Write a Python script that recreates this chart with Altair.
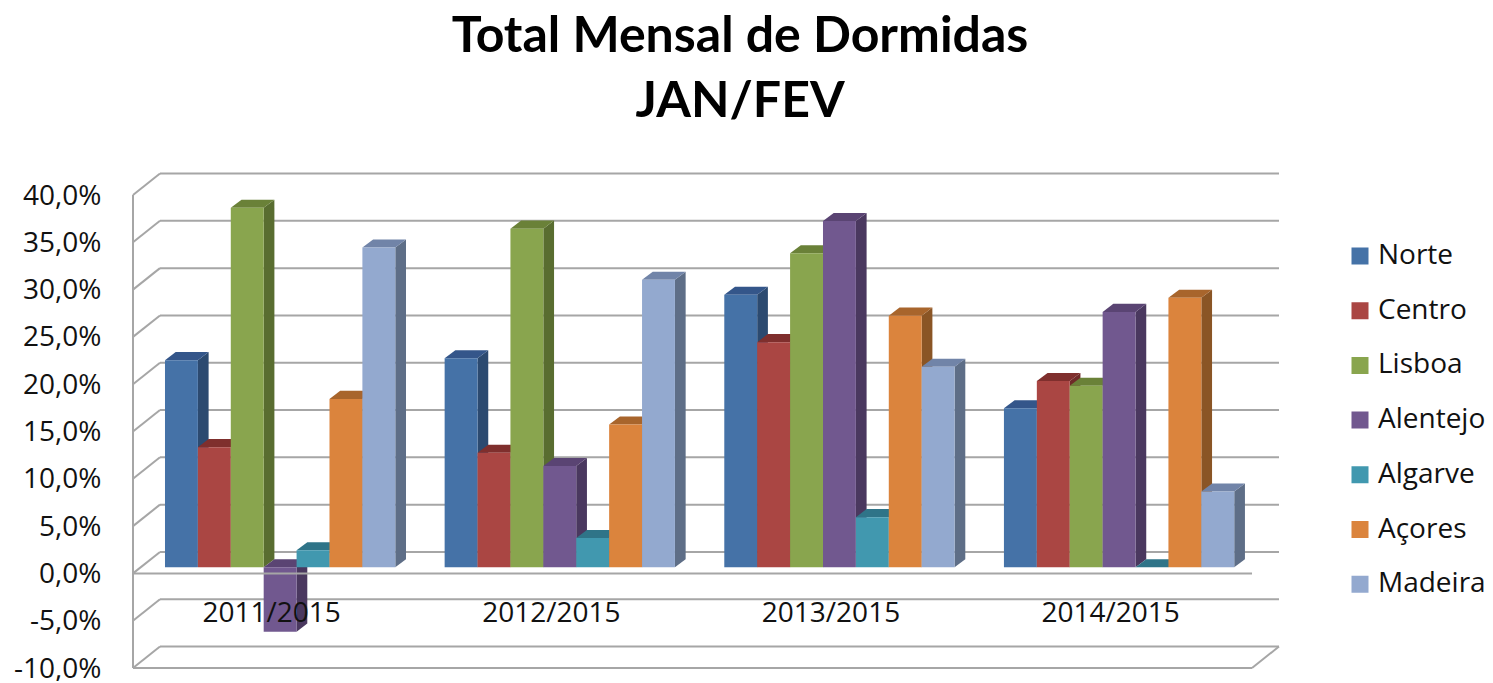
import altair as alt
import pandas as pd

# ---- data -----------------------------------------------------------------
periods = ["2011/2015", "2012/2015", "2013/2015", "2014/2015"]
regions = ["Norte", "Centro", "Lisboa", "Alentejo", "Algarve", "Açores", "Madeira"]
norte = [21.9, 22.1, 28.8, 16.8]
centro = [12.7, 12.1, 23.8, 19.7]
lisboa = [38.0, 35.8, 33.2, 19.2]
alentejo = [-6.8, 10.7, 36.6, 27.0]
algarve = [1.8, 3.1, 5.3, 0.0]
acores = [17.8, 15.1, 26.6, 28.5]
madeira = [33.8, 30.4, 21.2, 8.0]
series = [norte, centro, lisboa, alentejo, algarve, acores, madeira]
ticks = [-10, -5, 0, 5, 10, 15, 20, 25, 30, 35, 40]

front_colors = ["#4572A7", "#AA4643", "#89A54E", "#71588F", "#4198AF", "#DB843D", "#93A9CF"]
top_colors = ["#34568A", "#7F2F2D", "#6A8138", "#5A4473", "#2F7488", "#A8652C", "#7184A8"]
side_colors = ["#2C4A70", "#6F2A28", "#596D30", "#4A385F", "#27687A", "#8A5525", "#5E6E87"]

# ---- 3-D projection, in data units ----------------------------------------
X_MAX = 4.098        # width of plot in category steps
Y_MIN, Y_MAX = -10, 42.22
WALL_DX, WALL_DY = 0.0965, 2.27   # front plane -> back wall
BAR_X0 = 0.1144      # gap before first bar of a group
BAR_W = 1 / 8.5
BAR_DX, BAR_DY = 0.0383, 0.85     # depth of a bar
BASE_DY = 0.645      # bar plane sits above the front plane
FRONT_W = X_MAX - WALL_DX

fronts, sides, tops = [], [], []
for s, (name, vals) in enumerate(zip(regions, series)):
    for g, v in enumerate(vals):
        left = g + BAR_X0 + s * BAR_W
        right = left + BAR_W
        lo = BASE_DY
        hi = v + BASE_DY
        up = max(lo, hi)
        dn = min(lo, hi)
        key = f"{g}-{s}"
        fronts.append(dict(x=left, x2=right, y=dn, y2=up, region=name))
        for px, shift in ((right, 0), (right + BAR_DX, BAR_DY)):
            sides.append(dict(id=key, x=px, y=dn + shift, y2=up + shift, c=side_colors[s]))
        for py, shift in ((up, 0), (up + BAR_DY, BAR_DX)):
            tops.append(dict(id=key, y=py, x=left + shift, x2=right + shift, c=top_colors[s]))

back_lines = [dict(x=WALL_DX, x2=X_MAX, y=t + WALL_DY) for t in ticks]
slants = []
for t in ticks:
    slants.append(dict(id=f"l{t}", x=0, y=t))
    slants.append(dict(id=f"l{t}", x=WALL_DX, y=t + WALL_DY))
slants.append(dict(id="r", x=FRONT_W, y=-10))
slants.append(dict(id="r", x=X_MAX, y=-10 + WALL_DY))
front_lines = [dict(x=0, x2=FRONT_W, y=t) for t in (-10, 0)]
left_edge = [dict(x=0, y=-10, y2=40)]
labels = [dict(x=g + 0.4959, y=-4.3, t=p) for g, p in enumerate(periods)]

# ---- encodings ------------------------------------------------------------
LINE = "#A6A6A6"
xs = alt.Scale(domain=[0, X_MAX], nice=False, zero=False)
ys = alt.Scale(domain=[Y_MIN, Y_MAX], nice=False, zero=False)
y_axis = alt.Axis(
    values=ticks, domain=False, ticks=False, grid=False,
    labelExpr="(datum.value<0?'-':'')+replace(format(abs(datum.value),'.1f'),'.',',')+'%'",
    labelFont="Open Sans", labelFontSize=28, labelColor="#111111",
    labelPadding=32, labelOffset=1, labelFlush=False, labelOverlap=False,
)
X = alt.X("x:Q", scale=xs, axis=None)
Y = alt.Y("y:Q", scale=ys, title=None, axis=y_axis)


def src(rows):
    return alt.Chart(pd.DataFrame(rows))


grid_back = src(back_lines).mark_rule(color=LINE, strokeWidth=2).encode(x=X, x2="x2:Q", y=Y)
grid_slant = src(slants).mark_line(color=LINE, strokeWidth=2).encode(x=X, y=Y, detail="id:N", order="x:Q")
grid_left = src(left_edge).mark_rule(color=LINE, strokeWidth=2).encode(x=X, y=Y, y2="y2:Q")
grid_front = src(front_lines).mark_rule(color=LINE, strokeWidth=2).encode(x=X, x2="x2:Q", y=Y)

side_layer = src(sides).mark_area(orient="vertical").encode(
    x=X, y=Y, y2="y2:Q", detail="id:N",
    fill=alt.Fill("c:N", scale=None, legend=None))
top_layer = src(tops).mark_area(orient="horizontal").encode(
    y=Y, x=X, x2="x2:Q", detail="id:N",
    fill=alt.Fill("c:N", scale=None, legend=None))
front_layer = src(fronts).mark_rect().encode(
    x=X, x2="x2:Q", y=Y, y2="y2:Q",
    color=alt.Color("region:N",
                    scale=alt.Scale(domain=regions, range=front_colors),
                    legend=alt.Legend(
                        title=None, orient="none", legendX=1213, legendY=68,
                        symbolType="square", symbolSize=289, symbolStrokeWidth=0,
                        labelFont="Open Sans", labelFontSize=28, labelColor="#111111",
                        labelLimit=200, labelOffset=4, rowPadding=26.7, padding=0,
                        clipHeight=28, values=regions,
                    )))
text_layer = src(labels).mark_text(
    font="Open Sans", fontSize=28, color="#111111", baseline="middle", align="center"
).encode(x=X, y=Y, text="t:N")

chart = alt.layer(
    grid_back, grid_slant, grid_left, side_layer, top_layer,
    front_layer, grid_front, text_layer,
).properties(
    width=1146, height=494,
    autosize=alt.AutoSizeParams(type="none"),
    padding={"left": 125, "top": 166, "right": 206, "bottom": 13},
    title=alt.TitleParams(
        text=["Total Mensal de Dormidas", "JAN/FEV"],
        font="Lato", fontSize=50, fontWeight="bold", color="#000000",
        anchor="middle", dx=34, offset=43, lineHeight=65,
    ),
).configure_view(stroke=None)

chart.save("out.html", embed_options={"renderer": "svg", "actions": False})
